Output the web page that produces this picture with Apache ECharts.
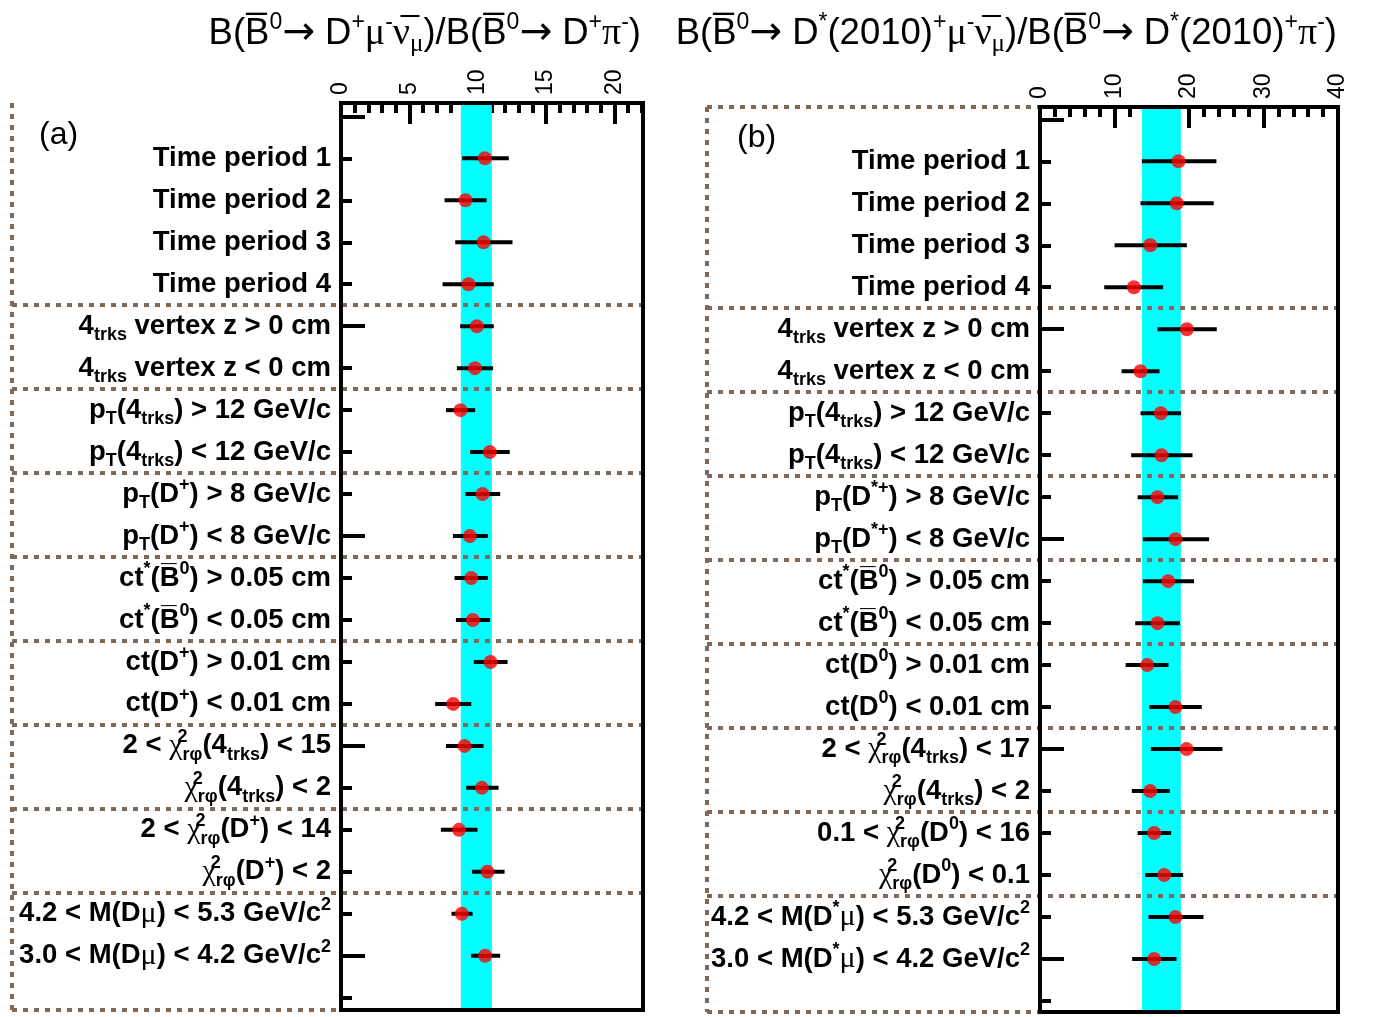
<!DOCTYPE html>
<html><head><meta charset="utf-8">
<script src="https://cdn.jsdelivr.net/npm/echarts@6/dist/echarts.min.js"></script>
<style>html,body{margin:0;padding:0;background:#fff}#c{width:1377px;height:1017px}</style>
</head><body><div id="c"></div>
<script>
// ---------- data ----------
const categoriesA = [
  '{n|Time period 1}', '{n|Time period 2}', '{n|Time period 3}', '{n|Time period 4}',
  '{n|4}{sub|trks}{n| vertex z > 0 cm}',
  '{n|4}{sub|trks}{n| vertex z < 0 cm}',
  '{n|p}{sub|T}{n|(4}{sub|trks}{n|) > 12 GeV/c}',
  '{n|p}{sub|T}{n|(4}{sub|trks}{n|) < 12 GeV/c}',
  '{n|p}{sub|T}{n|(D}{sup|+}{n|) > 8 GeV/c}',
  '{n|p}{sub|T}{n|(D}{sup|+}{n|) < 8 GeV/c}',
  '{n|ct}{sup|*}{n|(B\u0305}{sup|0}{n|) > 0.05 cm}',
  '{n|ct}{sup|*}{n|(B\u0305}{sup|0}{n|) < 0.05 cm}',
  '{n|ct(D}{sup|+}{n|) > 0.01 cm}',
  '{n|ct(D}{sup|+}{n|) < 0.01 cm}',
  '{n|2 < }{g|χ}{sup0|2}{sub|rφ}{n|(4}{sub|trks}{n|) < 15}',
  '{g|χ}{sup0|2}{sub|rφ}{n|(4}{sub|trks}{n|) < 2}',
  '{n|2 < }{g|χ}{sup0|2}{sub|rφ}{n|(D}{sup|+}{n|) < 14}',
  '{g|χ}{sup0|2}{sub|rφ}{n|(D}{sup|+}{n|) < 2}',
  '{n|4.2 < M(D}{g|μ}{n|) < 5.3 GeV/c}{sup|2}',
  '{n|3.0 < M(D}{g|μ}{n|) < 4.2 GeV/c}{sup|2}'
];
const categoriesB = [
  '{n|Time period 1}', '{n|Time period 2}', '{n|Time period 3}', '{n|Time period 4}',
  '{n|4}{sub|trks}{n| vertex z > 0 cm}',
  '{n|4}{sub|trks}{n| vertex z < 0 cm}',
  '{n|p}{sub|T}{n|(4}{sub|trks}{n|) > 12 GeV/c}',
  '{n|p}{sub|T}{n|(4}{sub|trks}{n|) < 12 GeV/c}',
  '{n|p}{sub|T}{n|(D}{sup|*+}{n|) > 8 GeV/c}',
  '{n|p}{sub|T}{n|(D}{sup|*+}{n|) < 8 GeV/c}',
  '{n|ct}{sup|*}{n|(B\u0305}{sup|0}{n|) > 0.05 cm}',
  '{n|ct}{sup|*}{n|(B\u0305}{sup|0}{n|) < 0.05 cm}',
  '{n|ct(D}{sup|0}{n|) > 0.01 cm}',
  '{n|ct(D}{sup|0}{n|) < 0.01 cm}',
  '{n|2 < }{g|χ}{sup0|2}{sub|rφ}{n|(4}{sub|trks}{n|) < 17}',
  '{g|χ}{sup0|2}{sub|rφ}{n|(4}{sub|trks}{n|) < 2}',
  '{n|0.1 < }{g|χ}{sup0|2}{sub|rφ}{n|(D}{sup|0}{n|) < 16}',
  '{g|χ}{sup0|2}{sub|rφ}{n|(D}{sup|0}{n|) < 0.1}',
  '{n|4.2 < M(D}{sup|*}{g|μ}{n|) < 5.3 GeV/c}{sup|2}',
  '{n|3.0 < M(D}{sup|*}{g|μ}{n|) < 4.2 GeV/c}{sup|2}'
];
const valuesA = [10.53, 9.11, 10.43, 9.33, 9.94, 9.80, 8.75, 10.89, 10.36, 9.43,
                 9.53, 9.65, 10.94, 8.21, 9.04, 10.31, 8.63, 10.72, 8.84, 10.55];
const lowA    = [8.87, 7.58, 8.36, 7.43, 8.72, 8.48, 7.68, 9.45, 9.11, 8.19,
                 8.31, 8.41, 9.72, 6.89, 7.68, 9.16, 7.31, 9.58, 8.09, 9.52];
const highA   = [12.28, 10.65, 12.55, 11.18, 11.18, 11.13, 9.82, 12.35, 11.65, 10.75,
                 10.75, 10.91, 12.19, 9.53, 10.43, 11.53, 9.99, 11.97, 9.63, 11.65];
const valuesB = [18.59, 18.36, 14.79, 12.60, 19.71, 13.49, 16.22, 16.31, 15.77, 18.19,
                 17.20, 15.77, 14.39, 18.19, 19.66, 14.79, 15.32, 16.67, 18.19, 15.32];
const lowB    = [13.67, 13.49, 10.01, 8.62, 15.77, 10.95, 13.49, 12.24, 13.10, 13.81,
                 13.81, 12.78, 11.49, 14.70, 14.88, 12.33, 13.10, 14.12, 14.57, 12.37];
const highB   = [23.68, 23.32, 19.71, 16.53, 23.73, 16.04, 18.94, 20.47, 18.54, 22.70,
                 20.68, 18.77, 17.25, 21.72, 24.49, 17.43, 17.60, 19.21, 21.94, 18.32];
const bandA = [8.77, 11.04];
const bandB = [13.7, 18.9];
const ticksA = [0, 5, 10, 15, 20];
const ticksB = [0, 10, 20, 30, 40];
const separators = [3.5, 5.5, 7.5, 9.5, 11.5, 13.5, 15.5, 17.5];
const titleA = '{t|B(B\u0305}{ts|0}{ta|\u2192}{t| D}{ts|+}{tg|μ}{ts|-}{tg|ν\u0305}{tb|μ}{t|)/B(B\u0305}{ts|0}{ta|\u2192}{t| D}{ts|+}{tg|π}{ts|-}{t|)}';
const titleB = '{t|B(B\u0305}{ts|0}{ta|\u2192}{t| D}{ts|*}{t|(2010)}{ts|+}{tg|μ}{ts|-}{tg|ν\u0305}{tb|μ}{t|)/B(B\u0305}{ts|0}{ta|\u2192}{t| D}{ts|*}{t|(2010)}{ts|+}{tg|π}{ts|-}{t|)}';

// ---------- styles ----------
const SANS = 'Liberation Sans';
const SERIF = 'Liberation Serif';
const labelRich = {
  n: {fontFamily: SANS, fontWeight: 'bold', fontSize: 27.5, lineHeight: 36, color: '#000'},
  sub: {fontFamily: SANS, fontWeight: 'bold', fontSize: 18, lineHeight: 18, verticalAlign: 'bottom', color: '#000'},
  sup: {fontFamily: SANS, fontWeight: 'bold', fontSize: 18, lineHeight: 18, verticalAlign: 'top', color: '#000'},
  sup0: {fontFamily: SANS, fontWeight: 'bold', fontSize: 18, lineHeight: 18, verticalAlign: 'top', width: 0, align: 'left', color: '#000'},
  g: {fontFamily: SERIF, fontWeight: 'normal', fontSize: 30, lineHeight: 36, color: '#000'}
};
const titleRich = {
  t: {fontFamily: SANS, fontWeight: 'normal', fontSize: 36.5, lineHeight: 46, color: '#000'},
  ta: {fontFamily: 'DejaVu Sans', fontWeight: 'normal', fontSize: 39, lineHeight: 46, color: '#000'},
  ts: {fontFamily: SANS, fontWeight: 'normal', fontSize: 23, lineHeight: 22, verticalAlign: 'top', color: '#000'},
  tb: {fontFamily: SERIF, fontWeight: 'normal', fontSize: 25, lineHeight: 22, verticalAlign: 'bottom', color: '#000'},
  tg: {fontFamily: SERIF, fontWeight: 'normal', fontSize: 38, lineHeight: 46, color: '#000'}
};
const SEP_COLOR = '#806958';

function range(a, b) { const r = []; for (let i = a; i <= b; i++) r.push(i); return r; }

function buildPanel(k, cfg) {
  const gOuter = 2 * k, gMain = 2 * k + 1;
  const xOuter = 3 * k, xMain = 3 * k + 1;
  const yOuter = 3 * k, yMain = 3 * k + 1;
  const n = cfg.values.length;
  const minor = [];
  for (let v = 0; v <= cfg.xMax + 1e-9; v += cfg.minorStep) {
    if (Math.abs(v / cfg.majorStep - Math.round(v / cfg.majorStep)) > 1e-6) minor.push(v);
  }
  const yBase = {type: 'value', min: cfg.yMin, max: cfg.yMax, inverse: true, splitLine: {show: false}};
  const grids = [
    {left: cfg.outerLeft, top: cfg.top, width: cfg.right - cfg.outerLeft, height: cfg.height},
    {left: cfg.left, top: cfg.top, width: cfg.right - cfg.left, height: cfg.height,
     show: true, borderColor: '#000', borderWidth: 4, backgroundColor: 'transparent', z: 10}
  ];
  const xAxes = [
    {gridIndex: gOuter, type: 'value', min: 0, max: 1, show: false},
    {gridIndex: gMain, type: 'value', position: 'top', min: 0, max: cfg.xMax,
     axisLine: {show: true, onZero: false, lineStyle: {color: '#000', width: 4}},
     axisTick: {show: true, inside: true, length: 21, lineStyle: {color: '#000', width: 4}, customValues: cfg.ticks},
     splitLine: {show: false},
     axisLabel: {show: true, rotate: -90, margin: 8, fontFamily: SANS, fontSize: 23, color: '#000', customValues: cfg.ticks}},
    {gridIndex: gMain, type: 'value', position: 'top', offset: 0, min: 0, max: cfg.xMax,
     axisLine: {show: false, onZero: false},
     axisTick: {show: true, inside: true, length: 10, lineStyle: {color: '#000', width: 4}, customValues: minor},
     splitLine: {show: false}, axisLabel: {show: false}}
  ];
  const yAxes = [
    Object.assign({gridIndex: gOuter, show: false}, yBase),
    Object.assign({gridIndex: gMain, position: 'left',
      axisLine: {show: true, onZero: false, lineStyle: {color: '#000', width: 4}},
      axisTick: {show: true, inside: true, length: 11, lineStyle: {color: '#000', width: 4}, customValues: range(-1, n)},
      axisLabel: {show: true, margin: 10, customValues: range(0, n - 1),
        formatter: v => cfg.categories[Math.round(v)] || '', rich: labelRich}}, yBase),
    Object.assign({gridIndex: gMain, position: 'left', offset: 0,
      axisLine: {show: false, onZero: false},
      axisTick: {show: true, inside: true, length: 24, lineStyle: {color: '#000', width: 4}, customValues: [-1, 4, 9, 14, 19]},
      axisLabel: {show: false}}, yBase)
  ];
  const series = [
    {type: 'line', xAxisIndex: xMain, yAxisIndex: yMain, data: [], z: 1, silent: true,
     markArea: {silent: true, itemStyle: {color: '#00ffff', opacity: 1},
       data: [[{xAxis: cfg.band[0]}, {xAxis: cfg.band[1]}]]}},
    {type: 'line', xAxisIndex: xOuter, yAxisIndex: yOuter, data: [], z: 3, silent: true,
     markLine: {silent: true, symbol: ['none', 'none'], label: {show: false},
       lineStyle: {color: SEP_COLOR, width: 4, type: [5, 6], opacity: 1},
       data: separators.map(v => ({yAxis: v})).concat([{yAxis: cfg.yMin}, {yAxis: cfg.yMax}, {xAxis: 0}])}},
    {type: 'custom', xAxisIndex: xMain, yAxisIndex: yMain, z: 4,
     data: cfg.low.map((l, i) => [l, cfg.high[i], i]),
     encode: {x: [0, 1], y: 2},
     renderItem: (params, api) => {
       const p1 = api.coord([api.value(0), api.value(2)]);
       const p2 = api.coord([api.value(1), api.value(2)]);
       return {type: 'line', shape: {x1: p1[0], y1: p1[1], x2: p2[0], y2: p2[1]},
               style: {stroke: '#000', lineWidth: 4}};
     }},
    {type: 'scatter', xAxisIndex: xMain, yAxisIndex: yMain, z: 5, symbol: 'circle', symbolSize: 14,
     itemStyle: {color: '#ff0000'}, data: cfg.values.map((v, i) => [v, i])}
  ];
  return {grids, xAxes, yAxes, series};
}

const pa = buildPanel(0, {outerLeft: 12, left: 341, right: 643, top: 103, height: 907,
  yMin: -1.318, yMax: 20.293, xMax: 22.1, majorStep: 5, minorStep: 1, ticks: ticksA,
  categories: categoriesA, values: valuesA, low: lowA, high: highA, band: bandA});
const pb = buildPanel(1, {outerLeft: 707, left: 1040, right: 1338, top: 107, height: 905,
  yMin: -1.293, yMax: 20.262, xMax: 40, majorStep: 10, minorStep: 2, ticks: ticksB,
  categories: categoriesB, values: valuesB, low: lowB, high: highB, band: bandB});

const option = {
  animation: false,
  backgroundColor: '#fff',
  textStyle: {fontFamily: SANS},
  title: [
    {text: titleA, right: 731, top: 6, textStyle: {rich: titleRich}},
    {text: titleB, right: 35, top: 6, textStyle: {rich: titleRich}},
    {text: '(a)', left: 34, top: 114, textStyle: {fontFamily: SANS, fontWeight: 'normal', fontSize: 32, color: '#000'}},
    {text: '(b)', left: 732, top: 117, textStyle: {fontFamily: SANS, fontWeight: 'normal', fontSize: 32, color: '#000'}}
  ],
  grid: pa.grids.concat(pb.grids),
  xAxis: pa.xAxes.concat(pb.xAxes),
  yAxis: pa.yAxes.concat(pb.yAxes),
  series: pa.series.concat(pb.series)
};
const chart = echarts.init(document.getElementById('c'), null, {renderer: 'canvas'});
chart.setOption(option);
</script></body></html>
